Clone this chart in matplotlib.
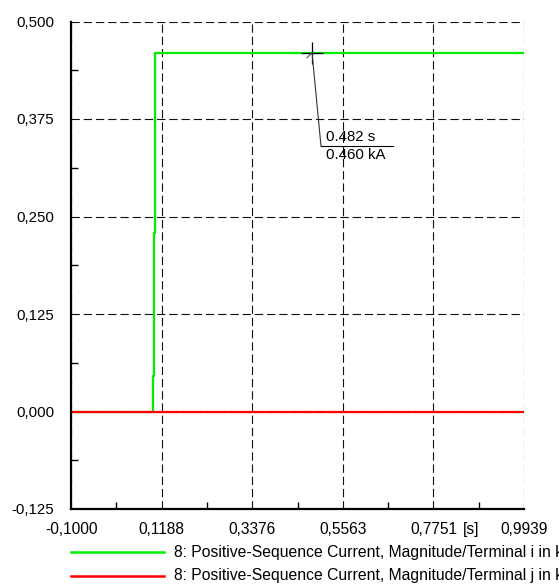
import matplotlib
matplotlib.use("Agg")
import matplotlib.pyplot as plt
from matplotlib.lines import Line2D
from matplotlib.ticker import FixedLocator

plt.rcParams['font.family'] = ['Liberation Sans', 'DejaVu Sans']

# ---- data ----
t_green = [-0.1, 0.097, 0.100, 0.103, 0.9939]
i_green = [0.0, 0.045, 0.229, 0.460, 0.460]
t_red = [-0.1, 0.9939]
i_red = [0.0, 0.0]
series_labels = [
    "8: Positive-Sequence Current, Magnitude/Terminal i in kA",
    "8: Positive-Sequence Current, Magnitude/Terminal j in kA",
]
series_colors = ["#00ee00", "#ff0000"]
x_ticks = [-0.1000, 0.1188, 0.3376, 0.5563, 0.7751, 0.9939]
x_tick_labels = ["-0,1000", "0,1188", "0,3376", "0,5563", "0,7751", "0,9939"]
y_ticks = [-0.125, 0.0, 0.125, 0.250, 0.375, 0.500]
y_tick_labels = ["-0,125", "0,000", "0,125", "0,250", "0,375", "0,500"]
x_unit = "[s]"
cursor_t, cursor_i = 0.482, 0.460
cursor_texts = ["0.482 s", "0.460 kA"]

W, H, DPI = 559, 588, 100
fig = plt.figure(figsize=(W / DPI, H / DPI), dpi=DPI)
ax = fig.add_axes([71 / W, 1 - 509 / H, (524 - 71) / W, (509 - 21.5) / H])

ax.set_xlim(x_ticks[0], x_ticks[-1])
ax.set_ylim(y_ticks[0], y_ticks[-1])

ax.plot(t_green, i_green, drawstyle='steps-post', color=series_colors[0], lw=1.6, zorder=3)
ax.plot(t_red, i_red, color=series_colors[1], lw=1.6, zorder=4)

ax.set_xticks(x_ticks)
ax.set_xticklabels(x_tick_labels)
ax.set_yticks(y_ticks)
ax.set_yticklabels(y_tick_labels)
xm = [(a + b) / 2 for a, b in zip(x_ticks[:-1], x_ticks[1:])]
ym = [(a + b) / 2 for a, b in zip(y_ticks[:-1], y_ticks[1:])]
ax.xaxis.set_minor_locator(FixedLocator(xm))
ax.yaxis.set_minor_locator(FixedLocator(ym))
ax.tick_params(which='both', direction='in', colors='black')
ax.tick_params(axis='x', which='major', labelsize=11.2, pad=9.5, length=0)
ax.tick_params(axis='y', which='major', labelsize=10.8, pad=12.2, length=0)
ax.tick_params(which='minor', length=5, width=1)

ax.grid(True, which='major', color='#111111', lw=0.8, linestyle=(0, (7.5, 3.5)), zorder=1)
ax.set_axisbelow(True)
for s in ['top', 'right']:
    ax.spines[s].set_visible(False)
for s in ['left', 'bottom']:
    ax.spines[s].set_linewidth(1.6)
    ax.spines[s].set_zorder(5)

# unit label, aligned with the x tick labels
px_x = (x_ticks[-1] - x_ticks[0]) / (524 - 71)
px_y = (y_ticks[-1] - y_ticks[0]) / (509 - 21.5)
ax.annotate(x_unit, xy=(x_ticks[0] + (471 - 71) * px_x, y_ticks[0]), xytext=(0, -9.5),
            textcoords='offset points', ha='center', va='top', fontsize=11.2,
            annotation_clip=False)

# cursor annotation
ax.plot([cursor_t], [cursor_i], marker='+', ms=16, mew=0.9, color='black', zorder=6)
ax.plot([cursor_t - 5 * px_x, cursor_t], [cursor_i - 5 * px_y, cursor_i], color='#555555', lw=0.8, zorder=6)
lx = cursor_t + 9 * px_x
ly = cursor_i - 93.5 * px_y
ax.plot([cursor_t, lx], [cursor_i, ly], color='#333333', lw=0.8, zorder=6)
ax.plot([lx, lx + 72 * px_x], [ly, ly], color='black', lw=0.8, zorder=6)
ax.text(lx + 5 * px_x, ly + 2 * px_y, cursor_texts[0], ha='left', va='bottom', fontsize=10.8, zorder=7)
ax.text(lx + 5 * px_x, ly - 1.5 * px_y, cursor_texts[1], ha='left', va='top', fontsize=10.8, zorder=7)

# legend (drawn manually, clipped at figure edge like the original)
for k, (lab, col) in enumerate(zip(series_labels, series_colors)):
    yy = 1 - (552 + 23.5 * k) / H
    fig.add_artist(Line2D([71 / W, 164 / W], [yy, yy], color=col, lw=1.8, transform=fig.transFigure))
    fig.text(174 / W, yy, lab, ha='left', va='center', fontsize=11.3)

fig.savefig("out.png", dpi=DPI)
